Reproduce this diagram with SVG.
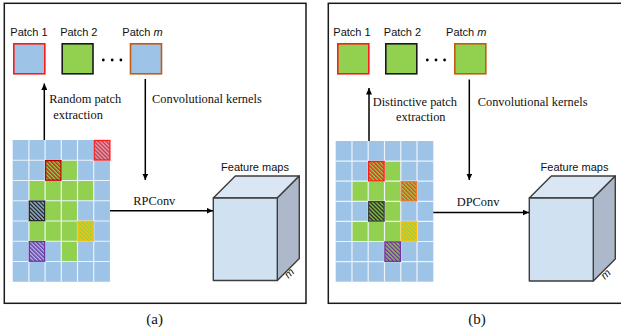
<svg xmlns="http://www.w3.org/2000/svg" width="621" height="332" viewBox="0 0 621 332">
  <style>
    .frame { fill: none; stroke: #1a1a1a; stroke-width: 1.5; }
    .sans { font-family: "Liberation Sans", Arial, sans-serif; font-size: 11px; fill: #111; }
    .serif { font-family: "Liberation Serif", "Times New Roman", serif; font-size: 12.4px; fill: #111; }
    .cap { font-family: "Liberation Serif", "Times New Roman", serif; font-size: 15px; fill: #111; }
    .blue { fill: #9DC3E6; }
    .green { fill: #92D050; }
    .gridline { stroke: #EEF3F9; stroke-width: 1.2; }
    .patch { stroke-width: 1.6; }
    .hatch { stroke-width: 1.3; }
    .edge { stroke: #3d3d3d; stroke-width: 1.4; stroke-linejoin: round; }
    .conn { stroke: #000; stroke-width: 1.5; fill: none; }
  </style>
  <defs>
    <marker id="arrow" markerUnits="userSpaceOnUse" markerWidth="7" markerHeight="6" refX="6.5" refY="3" orient="auto">
      <path d="M0,0 L6.5,3 L0,6 z" fill="#000"/>
    </marker>
    <!-- diagonal stripe fills for highlighted cells -->
    <pattern id="hRedBlue" patternUnits="userSpaceOnUse" width="2.8" height="2.8" patternTransform="rotate(-45)">
      <rect width="2.8" height="2.8" fill="#9DC3E6"/><rect width="1.4" height="2.8" fill="#FF1A1A"/>
    </pattern>
    <pattern id="hRedGreen" patternUnits="userSpaceOnUse" width="2.8" height="2.8" patternTransform="rotate(-45)">
      <rect width="2.8" height="2.8" fill="#92D050"/><rect width="1.4" height="2.8" fill="#C81E1E"/>
    </pattern>
    <pattern id="hBrightRedGreen" patternUnits="userSpaceOnUse" width="2.8" height="2.8" patternTransform="rotate(-45)">
      <rect width="2.8" height="2.8" fill="#92D050"/><rect width="1.4" height="2.8" fill="#FF1A1A"/>
    </pattern>
    <pattern id="hOrangeGreen" patternUnits="userSpaceOnUse" width="2.8" height="2.8" patternTransform="rotate(-45)">
      <rect width="2.8" height="2.8" fill="#92D050"/><rect width="1.4" height="2.8" fill="#F0401A"/>
    </pattern>
    <pattern id="hBlackBlue" patternUnits="userSpaceOnUse" width="2.8" height="2.8" patternTransform="rotate(-45)">
      <rect width="2.8" height="2.8" fill="#9DC3E6"/><rect width="1.4" height="2.8" fill="#1f1f1f"/>
    </pattern>
    <pattern id="hBlackGreen" patternUnits="userSpaceOnUse" width="2.8" height="2.8" patternTransform="rotate(-45)">
      <rect width="2.8" height="2.8" fill="#92D050"/><rect width="1.4" height="2.8" fill="#1f1f1f"/>
    </pattern>
    <pattern id="hYellowGreen" patternUnits="userSpaceOnUse" width="2.8" height="2.8" patternTransform="rotate(-45)">
      <rect width="2.8" height="2.8" fill="#92D050"/><rect width="1.4" height="2.8" fill="#FFC000"/>
    </pattern>
    <pattern id="hPurpleBlue" patternUnits="userSpaceOnUse" width="2.8" height="2.8" patternTransform="rotate(-45)">
      <rect width="2.8" height="2.8" fill="#9DC3E6"/><rect width="1.4" height="2.8" fill="#7030A0"/>
    </pattern>
    <pattern id="hPurpleGreen" patternUnits="userSpaceOnUse" width="2.8" height="2.8" patternTransform="rotate(-45)">
      <rect width="2.8" height="2.8" fill="#92D050"/><rect width="1.4" height="2.8" fill="#7030A0"/>
    </pattern>
  </defs>

  <rect width="621" height="332" fill="#fff"/>

  <!-- ===================== (a) random patch convolution ===================== -->
  <g id="panel-a">
    <rect class="frame" x="4.3" y="3.3" width="301.7" height="300"/>
    <text class="cap" x="154.7" y="323.5" text-anchor="middle">(a)</text>
  </g>

  <g id="a-patch-1">
    <text class="sans" x="29" y="35.5" text-anchor="middle">Patch 1</text>
    <rect class="patch blue" x="13.8" y="43.8" width="31" height="30" stroke="#FF1A1A"/>
  </g>
  <g id="a-patch-2">
    <text class="sans" x="78.8" y="35.5" text-anchor="middle">Patch 2</text>
    <rect class="patch green" x="62.2" y="43.8" width="30.8" height="30" stroke="#1a1a1a"/>
  </g>
  <g id="a-ellipsis">
    <circle cx="103.3" cy="60" r="1.4" fill="#000"/>
    <circle cx="112.2" cy="60" r="1.4" fill="#000"/>
    <circle cx="120.9" cy="60" r="1.4" fill="#000"/>
  </g>
  <g id="a-patch-m">
    <text class="sans" x="142.5" y="35.5" text-anchor="middle">Patch <tspan font-style="italic">m</tspan></text>
    <rect class="patch blue" x="130.5" y="43.8" width="31" height="30" stroke="#C55A11"/>
  </g>

  <g id="a-image" transform="translate(12.7,140)">
    <rect class="blue" x="0" y="0" width="97.2" height="141.75"/>
    <rect class="green" x="48.6" y="20.25" width="16.2" height="20.25"/>
    <rect class="green" x="16.2" y="40.5" width="64.8" height="20.25"/>
    <rect class="green" x="32.4" y="60.75" width="32.4" height="20.25"/>
    <rect class="green" x="16.2" y="81" width="48.6" height="20.25"/>
    <rect class="green" x="48.6" y="101.25" width="16.2" height="20.25"/>
    <g class="gridline">
      <line x1="16.2" y1="0" x2="16.2" y2="141.75"/>
      <line x1="32.4" y1="0" x2="32.4" y2="141.75"/>
      <line x1="48.6" y1="0" x2="48.6" y2="141.75"/>
      <line x1="64.8" y1="0" x2="64.8" y2="141.75"/>
      <line x1="81" y1="0" x2="81" y2="141.75"/>
      <line x1="0" y1="20.25" x2="97.2" y2="20.25"/>
      <line x1="0" y1="40.5" x2="97.2" y2="40.5"/>
      <line x1="0" y1="60.75" x2="97.2" y2="60.75"/>
      <line x1="0" y1="81" x2="97.2" y2="81"/>
      <line x1="0" y1="101.25" x2="97.2" y2="101.25"/>
      <line x1="0" y1="121.5" x2="97.2" y2="121.5"/>
    </g>
    <rect class="hatch" x="81.5" y="0.5" width="15.7" height="19.5" fill="url(#hRedBlue)" stroke="#FF1A1A"/>
    <rect class="hatch" x="32.9" y="20.6" width="15.4" height="19.6" fill="url(#hRedGreen)" stroke="#C00000"/>
    <rect class="hatch" x="16.6" y="61.1" width="15.4" height="19.6" fill="url(#hBlackBlue)" stroke="#262626"/>
    <rect class="hatch" x="65.2" y="81.4" width="15.4" height="19.6" fill="url(#hYellowGreen)" stroke="#FFC000"/>
    <rect class="hatch" x="16.6" y="101.6" width="15.4" height="19.6" fill="url(#hPurpleBlue)" stroke="#7030A0"/>
  </g>

  <g id="a-feature-maps">
    <polygon points="213.3,198 235.3,176 299.3,176 277.3,198" fill="#DAE6F4" class="edge"/>
    <polygon points="277.3,198 299.3,176 299.3,258.5 277.3,280.5" fill="#ADB9CA" class="edge"/>
    <rect x="213.3" y="198" width="64" height="82.5" fill="#D0E1F2" class="edge"/>
    <text class="sans" x="255" y="170.5" text-anchor="middle">Feature maps</text>
    <text class="sans" font-style="italic" transform="translate(288.5,279) rotate(-45)">m</text>
  </g>

  <!-- ===================== (b) distinctive patch convolution ===================== -->
  <g id="panel-b">
    <rect class="frame" x="328.3" y="3.3" width="300" height="300"/>
    <text class="cap" x="477" y="323.5" text-anchor="middle">(b)</text>
  </g>

  <g id="b-patch-1">
    <text class="sans" x="352" y="35.5" text-anchor="middle">Patch 1</text>
    <rect class="patch green" x="337.8" y="43.8" width="31" height="30" stroke="#FF1A1A"/>
  </g>
  <g id="b-patch-2">
    <text class="sans" x="402.5" y="35.5" text-anchor="middle">Patch 2</text>
    <rect class="patch green" x="385.8" y="43.8" width="31" height="30" stroke="#1a1a1a"/>
  </g>
  <g id="b-ellipsis">
    <circle cx="427.3" cy="60" r="1.4" fill="#000"/>
    <circle cx="436" cy="60" r="1.4" fill="#000"/>
    <circle cx="444.6" cy="60" r="1.4" fill="#000"/>
  </g>
  <g id="b-patch-m">
    <text class="sans" x="466.3" y="35.5" text-anchor="middle">Patch <tspan font-style="italic">m</tspan></text>
    <rect class="patch green" x="454.8" y="43.8" width="31" height="30" stroke="#C55A11"/>
  </g>

  <g id="b-image" transform="translate(335.7,141)">
    <rect class="blue" x="0" y="0" width="97.6" height="140.7"/>
    <rect class="green" x="48.8" y="20.1" width="16.3" height="20.1"/>
    <rect class="green" x="16.3" y="40.2" width="48.8" height="20.1"/>
    <rect class="green" x="48.8" y="60.3" width="16.3" height="20.1"/>
    <rect class="green" x="16.3" y="80.4" width="48.8" height="20.1"/>
    <g class="gridline">
      <line x1="16.3" y1="0" x2="16.3" y2="140.7"/>
      <line x1="32.5" y1="0" x2="32.5" y2="140.7"/>
      <line x1="48.8" y1="0" x2="48.8" y2="140.7"/>
      <line x1="65.1" y1="0" x2="65.1" y2="140.7"/>
      <line x1="81.3" y1="0" x2="81.3" y2="140.7"/>
      <line x1="0" y1="20.1" x2="97.6" y2="20.1"/>
      <line x1="0" y1="40.2" x2="97.6" y2="40.2"/>
      <line x1="0" y1="60.3" x2="97.6" y2="60.3"/>
      <line x1="0" y1="80.4" x2="97.6" y2="80.4"/>
      <line x1="0" y1="100.5" x2="97.6" y2="100.5"/>
      <line x1="0" y1="120.6" x2="97.6" y2="120.6"/>
    </g>
    <rect class="hatch" x="32.9" y="20.5" width="15.5" height="19.4" fill="url(#hBrightRedGreen)" stroke="#FF1A1A"/>
    <rect class="hatch" x="65.5" y="40.6" width="15.4" height="19.4" fill="url(#hOrangeGreen)" stroke="#F4792B"/>
    <rect class="hatch" x="32.9" y="60.7" width="15.5" height="19.4" fill="url(#hBlackGreen)" stroke="#404040"/>
    <rect class="hatch" x="65.5" y="80.8" width="15.4" height="19.4" fill="url(#hYellowGreen)" stroke="#FFC000"/>
    <rect class="hatch" x="49.2" y="100.9" width="15.5" height="19.4" fill="url(#hPurpleGreen)" stroke="#7030A0"/>
  </g>

  <g id="b-feature-maps">
    <polygon points="529.3,198 551.3,176 615.3,176 593.3,198" fill="#DAE6F4" class="edge"/>
    <polygon points="593.3,198 615.3,176 615.3,259 593.3,281" fill="#ADB9CA" class="edge"/>
    <rect x="529.3" y="198" width="64" height="83" fill="#D0E1F2" class="edge"/>
    <text class="sans" x="574.5" y="170.5" text-anchor="middle">Feature maps</text>
    <text class="sans" font-style="italic" transform="translate(605,280) rotate(-45)">m</text>
  </g>

  <!-- ===================== connectors ===================== -->
  <g id="connectors">
    <line class="conn" x1="44.3" y1="140" x2="44.3" y2="83.5" marker-end="url(#arrow)"/>
    <text class="serif" x="49.3" y="103">Random patch</text>
    <text class="serif" x="53.3" y="119">extraction</text>
    <line class="conn" x1="145.3" y1="79" x2="145.3" y2="180" marker-end="url(#arrow)"/>
    <text class="serif" x="152" y="103">Convolutional kernels</text>
    <line class="conn" x1="110" y1="210.7" x2="213" y2="210.7" marker-end="url(#arrow)"/>
    <text class="serif" x="133.3" y="205">RPConv</text>

    <line class="conn" x1="369" y1="141" x2="369" y2="88" marker-end="url(#arrow)"/>
    <text class="serif" x="372.7" y="105.5">Distinctive patch</text>
    <text class="serif" x="396" y="121">extraction</text>
    <line class="conn" x1="469.3" y1="79.5" x2="469.3" y2="180" marker-end="url(#arrow)"/>
    <text class="serif" x="477.7" y="105.5">Convolutional kernels</text>
    <line class="conn" x1="433.3" y1="212.5" x2="529" y2="212.5" marker-end="url(#arrow)"/>
    <text class="serif" x="456.7" y="206">DPConv</text>
  </g>
</svg>
